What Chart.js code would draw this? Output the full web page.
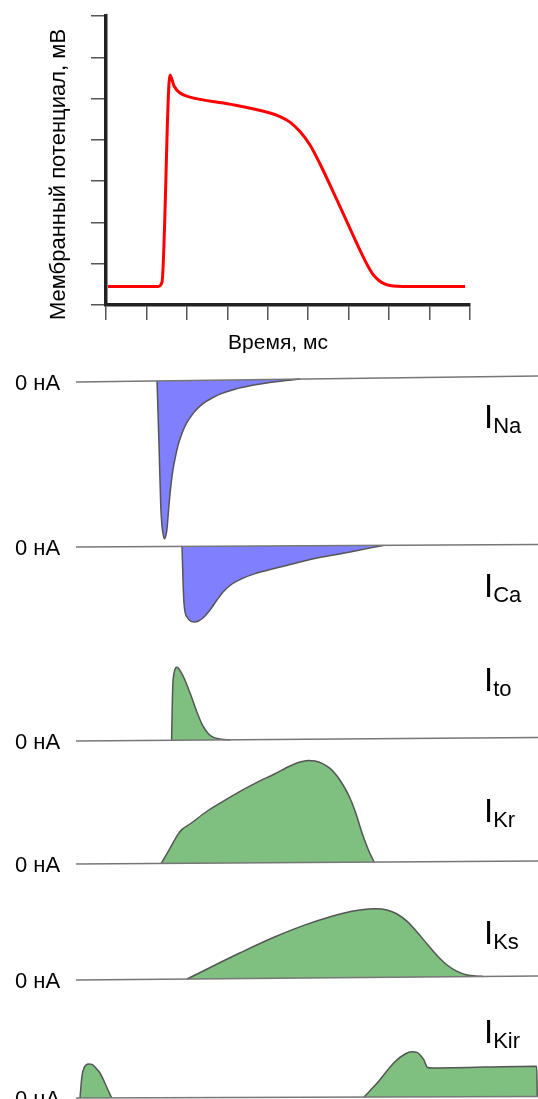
<!DOCTYPE html>
<html>
<head>
<meta charset="utf-8">
<script src="https://cdn.jsdelivr.net/npm/chart.js@4.4.1/dist/chart.umd.min.js"></script>
<style>
  html, body { margin: 0; padding: 0; background: #fff; }
  body { width: 538px; height: 1099px; position: relative; overflow: hidden; font-family: "Liberation Sans", Arial, sans-serif; color: #000; }
  canvas { position: absolute; left: 0; }
  .zero { position: absolute; left: 15px; font-size: 22px; line-height: 24px; white-space: nowrap; }
  .cur { position: absolute; left: 484px; font-size: 33px; line-height: 33px; white-space: nowrap; }
  .cur span { font-size: 22px; position: relative; top: 5px; }
</style>
</head>
<body>
<canvas id="ap" width="538" height="360" style="top:0"></canvas>
<script>
// membrane potential (top plot), time in ms, voltage in mV
const apTime = [2.5, 64.3, 69.2, 79.1, 84.1, 91.5, 103.9, 153.3, 202.7, 215.1, 227.5, 239.8, 252.2, 264.6, 285.6, 317.8, 324.0, 330.0, 337.0, 345.0, 355.0, 367.0, 443.9];
const apVoltage = [-91, -91, -89, 11.4, 6.1, 2.7, 0.7, -2.7, -7.0, -8.7, -11.4, -16.0, -22.5, -31.7, -49.2, -76.6, -81.3, -85.2, -88.0, -89.9, -90.8, -91, -91];

// ionic currents, nA (same time base)
const zeroTime = [-37, 534];

const naTime = [63.1, 65.6, 67.7, 69.2, 70.8, 72.3, 74.2, 75.4, 77.9, 80.3, 82.8, 85.3, 89.0, 94.0, 98.9, 103.9, 111.3, 119.9, 131.1, 143.4, 159.5, 178.0, 196.6, 215.1, 239.8];
const naCurrent = [0.05, -3.2, -6.2, -7.19, -7.64, -7.84, -7.64, -7.34, -6.14, -5.14, -4.39, -3.84, -3.18, -2.56, -2.11, -1.78, -1.4, -1.08, -0.8, -0.57, -0.36, -0.19, -0.06, 0.04, 0.15];
const naZero = [0, 0.3];

const caTime = [94.0, 95.2, 96.4, 100.1, 110.0, 119.9, 128.6, 137.2, 145.9, 155.8, 168.2, 184.2, 202.8, 227.5, 260.9, 301.7, 342.5];
const caCurrent = [0.03, -1.65, -2.8, -3.5, -3.75, -3.55, -3.15, -2.65, -2.2, -1.85, -1.58, -1.33, -1.13, -0.88, -0.55, -0.25, 0.08];
const caZero = [0, 0.125];

const toTime = [81.1, 81.8, 82.6, 84.1, 85.9, 87.4, 89.6, 92.7, 97.7, 106.3, 112.5, 119.3, 126.1, 132.3, 143.4, 153.3];
const toCurrent = [0.04, 1.54, 2.79, 3.39, 3.64, 3.69, 3.64, 3.44, 3.04, 2.14, 1.44, 0.79, 0.39, 0.19, 0.09, 0.06];
const toZero = [0, 0.175];

const krTime = [68.4, 79.1, 89.0, 94.0, 103.9, 123.6, 144.7, 165.7, 186.7, 208.3, 227.5, 239.8, 249.7, 258.4, 267.1, 277.0, 285.6, 293.0, 300.4, 307.9, 316.5, 323.9, 331.4];
const krCurrent = [0.03, 0.78, 1.48, 1.73, 2.0, 2.6, 3.13, 3.63, 4.08, 4.5, 4.9, 5.1, 5.18, 5.15, 5.03, 4.78, 4.4, 3.95, 3.4, 2.65, 1.55, 0.75, 0.1];
const krZero = [0, 0.15];

const ksTime = [100.1, 165.9, 208.3, 250.7, 293.3, 314.0, 332.6, 347.4, 359.8, 372.2, 384.5, 396.9, 409.2, 421.6, 434.0, 446.3, 458.7, 466.1];
const ksCurrent = [0.05, 1.36, 2.15, 2.82, 3.34, 3.5, 3.56, 3.5, 3.3, 2.93, 2.4, 1.8, 1.23, 0.75, 0.43, 0.25, 0.19, 0.18];
const ksZero = [0, 0.2];

const kirTime = [-32.1, -30.9, -29.7, -27.2, -24.7, -21.0, -17.3, -12.4, -7.4, -2.5, 2.5, 6.8];
const kirCurrent = [0, 0.6, 1.1, 1.5, 1.65, 1.7, 1.68, 1.5, 1.25, 0.85, 0.4, 0.02];
const kirTime2 = [318.7, 335.7, 356.8, 369.7, 378.1, 384.5, 388.6, 393.1, 397.1, 403.6, 532.3, 533.1];
const kirCurrent2 = [0.04, 0.77, 1.8, 2.2, 2.31, 2.28, 2.14, 1.9, 1.54, 1.5, 1.59, 0.07];
const kirZero = [0, 0.08];

const currentNames = ['Na', 'Ca', 'to', 'Kr', 'Ks', 'Kir'];
const zeroLabel = '0 нА';

const BLUE = '#8080ff';
const GREEN = '#7fbf7f';

// page layout of the current panels (px): panel top, height, zero line, label baseline
const panels = [
  { top: 360, height: 185, zero: 382, label: 428, traces: [[naTime, naCurrent]], zeroVals: naZero, color: BLUE },
  { top: 535, height: 100, zero: 547, label: 597, traces: [[caTime, caCurrent]], zeroVals: caZero, color: BLUE },
  { top: 650, height: 100, zero: 741, label: 691, traces: [[toTime, toCurrent]], zeroVals: toZero, color: GREEN },
  { top: 750, height: 120, zero: 864, label: 822, traces: [[krTime, krCurrent]], zeroVals: krZero, color: GREEN },
  { top: 895, height: 90, zero: 980, label: 944, traces: [[ksTime, ksCurrent]], zeroVals: ksZero, color: GREEN },
  { top: 1040, height: 59, zero: 1098, label: 1043, traces: [[kirTime, kirCurrent], [kirTime2, kirCurrent2]], zeroVals: kirZero, color: GREEN }
];
const NA_PER_PX = 0.05;

function toPoints(xs, ys) {
  return xs.map((x, i) => ({ x: x, y: ys[i] }));
}

const axisTitles = {
  id: 'axisTitles',
  afterDraw(chart) {
    const { ctx, chartArea } = chart;
    ctx.save();
    ctx.fillStyle = '#000';
    ctx.textAlign = 'center';
    ctx.font = '21px "Liberation Sans", Arial, sans-serif';
    ctx.fillText('Время, мс', (chartArea.left + chartArea.right) / 2 - 10, chartArea.bottom + 44);
    ctx.font = '22px "Liberation Sans", Arial, sans-serif';
    ctx.translate(chartArea.left - 41, (chartArea.top + chartArea.bottom) / 2 + 14);
    ctx.rotate(-Math.PI / 2);
    ctx.fillText('Мембранный потенциал, мВ', 0, 0);
    ctx.restore();
  }
};

const axisStyle = {
  grid: { drawOnChartArea: false, tickLength: 15, color: '#555', lineWidth: 1.5 },
  border: { color: '#222', width: 3.5 }
};

new Chart(document.getElementById('ap'), {
  type: 'line',
  data: {
    datasets: [{
      data: toPoints(apTime, apVoltage),
      borderColor: '#ff0000',
      borderWidth: 3,
      pointRadius: 0,
      cubicInterpolationMode: 'monotone',
      fill: false
    }]
  },
  options: {
    responsive: false,
    animation: false,
    events: [],
    layout: { padding: { top: 16, right: 68, left: 0, bottom: 0 } },
    plugins: { legend: { display: false }, tooltip: { enabled: false } },
    scales: {
      x: {
        type: 'linear', min: 0, max: 450,
        ticks: { display: false, stepSize: 50 },
        afterFit: s => { s.height = 55; },
        ...axisStyle
      },
      y: {
        min: -100, max: 40,
        ticks: { display: false, stepSize: 20 },
        afterFit: s => { s.width = 106; },
        ...axisStyle
      }
    }
  },
  plugins: [axisTitles]
});

panels.forEach((p, n) => {
  const canvas = document.createElement('canvas');
  canvas.width = 538;
  canvas.height = p.height;
  canvas.style.top = p.top + 'px';
  document.body.appendChild(canvas);

  const datasets = [{
    data: toPoints(zeroTime, p.zeroVals),
    borderColor: '#777',
    borderWidth: 1.5,
    pointRadius: 0,
    fill: false
  }];
  p.traces.forEach(([t, v]) => {
    datasets.push({
      data: toPoints(t, v),
      borderColor: '#555',
      borderWidth: 1.5,
      pointRadius: 0,
      backgroundColor: p.color,
      fill: 0,
      cubicInterpolationMode: 'monotone'
    });
  });

  const zeroOffset = p.zero - p.top;
  new Chart(canvas, {
    type: 'line',
    data: { datasets: datasets },
    options: {
      responsive: false,
      animation: false,
      events: [],
      layout: { padding: 0 },
      plugins: { legend: { display: false }, tooltip: { enabled: false } },
      scales: {
        x: { type: 'linear', display: false, min: -131, max: 534 },
        y: { display: false, min: -(p.height - zeroOffset) * NA_PER_PX, max: zeroOffset * NA_PER_PX }
      }
    }
  });

  const zl = document.createElement('div');
  zl.className = 'zero';
  zl.style.top = (p.zero - 11) + 'px';
  zl.textContent = zeroLabel;
  document.body.appendChild(zl);

  const cl = document.createElement('div');
  cl.className = 'cur';
  cl.style.top = (p.label - 28) + 'px';
  cl.innerHTML = 'I<span>' + currentNames[n] + '</span>';
  document.body.appendChild(cl);
});
</script>
</body>
</html>
